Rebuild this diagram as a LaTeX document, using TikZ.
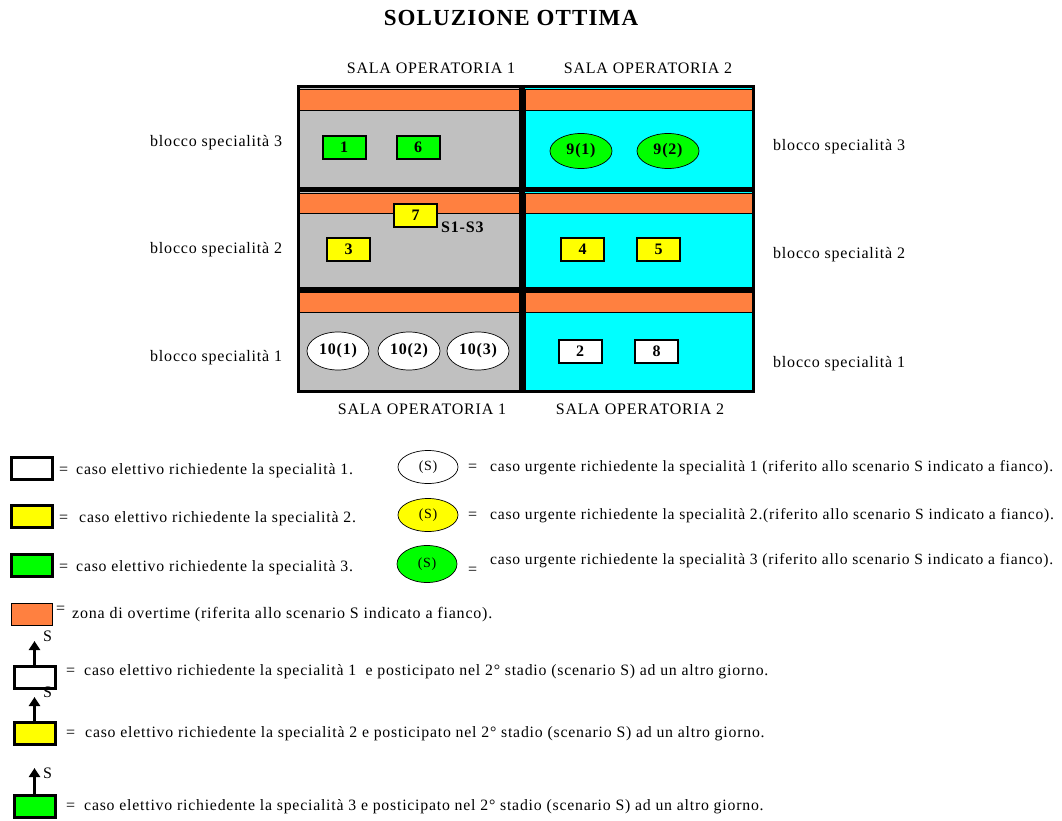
\documentclass[tikz,border=0pt]{standalone}
\usepackage{fontspec}
\setmainfont{Liberation Serif}[LetterSpace=5]
\usetikzlibrary{shapes.geometric,arrows.meta}

\definecolor{overtime}{RGB}{255,128,64}
\definecolor{grigiosala}{RGB}{192,192,192}
\definecolor{cianosala}{RGB}{0,255,255}
\definecolor{verde}{RGB}{0,255,0}
\definecolor{giallo}{RGB}{255,255,0}

\tikzset{
  elettivo/.style={draw, line width=2pt, minimum width=43pt, minimum height=23pt,
    inner sep=0pt, font=\fontsize{16}{16}\selectfont\bfseries},
  urgente/.style={draw, ellipse, line width=0.7pt, minimum width=62pt, minimum height=36pt,
    inner sep=0pt, font=\fontsize{16}{16}\selectfont\bfseries},
  testo/.style={anchor=west, inner sep=0pt, font=\fontsize{16}{16}\selectfont},
  riga/.style={anchor=base west, inner sep=0pt, font=\fontsize{#1}{16}\selectfont},
  riga/.default=16,
  legbox/.style={draw, line width=3pt, minimum width=41pt, minimum height=22pt, inner sep=0pt},
  legurg/.style={draw, ellipse, line width=0.7pt, minimum width=60pt, minimum height=33pt,
    inner sep=0pt, font=\fontsize{14}{14}\selectfont},
  rinvio/.style={line width=3pt, -{Triangle[length=9pt,width=11pt]}},
}

\begin{document}
\begin{tikzpicture}[x=1pt,y=-1pt]
    \useasboundingbox (0,0) rectangle (1062,821);

    % titolo e intestazioni delle sale
    \node[font=\fontsize{23}{23}\selectfont\bfseries] (titolo) at (511,18) {SOLUZIONE OTTIMA};
    \node[testo, anchor=center] (sala1su) at (431,68) {SALA OPERATORIA 1};
    \node[testo, anchor=center] (sala2su) at (648,68) {SALA OPERATORIA 2};

    % sfondo delle due sale
    \fill[grigiosala] (298,87) rectangle (522,390);
    \fill[cianosala] (522,87) rectangle (753,390);

    % fasce di overtime in cima a ogni blocco
    \foreach \ya/\yb in {89/110, 193/213, 292/312} {
        \filldraw[fill=overtime, line width=0.6pt] (299,\ya) rectangle (519,\yb);
        \filldraw[fill=overtime, line width=0.6pt] (525,\ya) rectangle (752,\yb);
    }
    \foreach \ya/\yb in {110/187, 213/287, 312/390} {
        \draw[line width=0.6pt] (299,\ya) rectangle (519,\yb);
        \draw[line width=0.6pt] (525,\ya) rectangle (752,\yb);
    }

    % bordo esterno e divisori
    \draw[line width=3pt] (298,87) rectangle (753,391);
    \draw[line width=6pt] (522,85) -- (522,393);
    \draw[line width=5pt] (298,190) -- (753,190);
    \draw[line width=5pt] (298,289.5) -- (753,289.5);

    % blocco specialita 3
    \node[elettivo, fill=verde] (c1) at (344,147.5) {1};
    \node[elettivo, fill=verde] (c6) at (418,147.5) {6};
    \node[urgente, fill=verde, minimum height=35pt] (c9a) at (581,151) {9(1)};
    \node[urgente, fill=verde, minimum height=35pt] (c9b) at (668,151) {9(2)};

    % blocco specialita 2
    \node[elettivo, fill=giallo] (c7) at (415.5,215.5) {7};
    \node[font=\fontsize{16}{16}\selectfont\bfseries, anchor=west, inner sep=0pt] (s13) at (441,227) {S1-S3};
    \node[elettivo, fill=giallo] (c3) at (348.5,249.5) {3};
    \node[elettivo, fill=giallo] (c4) at (582.5,249.5) {4};
    \node[elettivo, fill=giallo] (c5) at (658.5,249.5) {5};

    % blocco specialita 1
    \node[urgente, fill=white, minimum height=38pt] (c10a) at (338,351) {10(1)};
    \node[urgente, fill=white, minimum height=38pt] (c10b) at (409,351) {10(2)};
    \node[urgente, fill=white, minimum height=38pt] (c10c) at (478,351) {10(3)};
    \node[elettivo, fill=white] (c2) at (580,351) {2};
    \node[elettivo, fill=white] (c8) at (656.5,351) {8};

    % etichette dei blocchi
    \node[testo] (bs3sx) at (150,143) {blocco specialità 3};
    \node[testo] (bs2sx) at (150,250) {blocco specialità 2};
    \node[testo] (bs1sx) at (150,358) {blocco specialità 1};
    \node[testo] (bs3dx) at (773,147) {blocco specialità 3};
    \node[testo] (bs2dx) at (773,255) {blocco specialità 2};
    \node[testo] (bs1dx) at (773,364) {blocco specialità 1};

    \node[testo, anchor=center] (sala1giu) at (422,409) {SALA OPERATORIA 1};
    \node[testo, anchor=center] (sala2giu) at (640,409) {SALA OPERATORIA 2};

    % legenda: casi elettivi (righe allineate sulla linea di base)
    \node[legbox, fill=white] (le1) at (31.5,468) {};
    \node[riga] (ug1) at (59,474) {=};
    \node[riga=15.8] (lt1) at (76,474) {caso elettivo richiedente la specialità 1.};
    \node[legbox, fill=giallo] (le2) at (31.5,516.5) {};
    \node[riga] (ug2) at (59,522) {=};
    \node[riga=15.8] (lt2) at (79,522) {caso elettivo richiedente la specialità 2.};
    \node[legbox, fill=verde] (le3) at (31.5,565) {};
    \node[riga] (ug3) at (59,571) {=};
    \node[riga=15.8] (lt3) at (76,571) {caso elettivo richiedente la specialità 3.};

    % legenda: casi urgenti
    \node[legurg, fill=white] (lu1) at (428,467) {(S)};
    \node[riga] (uu1) at (468,471) {=};
    \node[riga=15.6] (lut1) at (490,471) {caso urgente richiedente la specialità 1 (riferito allo scenario S indicato a fianco).};
    \node[legurg, fill=giallo] (lu2) at (428,515) {(S)};
    \node[riga] (uu2) at (468,519) {=};
    \node[riga=15.6] (lut2) at (490,519) {caso urgente richiedente la specialità 2.(riferito allo scenario S indicato a fianco).};
    \node[legurg, fill=verde, minimum height=37pt] (lu3) at (427,564) {(S)};
    \node[riga] (uu3) at (468,574) {=};
    \node[riga=15.6] (lut3) at (490,564) {caso urgente richiedente la specialità 3 (riferito allo scenario S indicato a fianco).};

    % legenda: overtime
    \node[legbox, fill=overtime, line width=1.5pt] (lo) at (32,614.5) {};
    \node[riga] (uo) at (56,613) {=};
    \node[riga] (lot) at (72,618) {zona di overtime (riferita allo scenario S indicato a fianco).};

    % legenda: casi posticipati
    \node[legbox, fill=white] (lp1) at (34.5,677) {};
    \coordinate (fp1) at (34.5,641);
    \draw[rinvio] (lp1.north) -- (fp1);
    \node[testo] (sp1) at (43,636) {S};
    \node[riga] (up1) at (66,675) {=};
    \node[riga=15.8] (lpt1) at (84,675) {caso elettivo richiedente la specialità 1\ \ e posticipato nel 2° stadio (scenario S) ad un altro giorno.};

    \node[legbox, fill=giallo] (lp2) at (34.5,733) {};
    \coordinate (fp2) at (34.5,697);
    \draw[rinvio] (lp2.north) -- (fp2);
    \node[testo] (sp2) at (43,692) {S};
    \node[riga] (up2) at (66,737) {=};
    \node[riga=15.8] (lpt2) at (85,737) {caso elettivo richiedente la specialità 2 e posticipato nel 2° stadio (scenario S) ad un altro giorno.};

    \node[legbox, fill=verde] (lp3) at (34.5,806) {};
    \coordinate (fp3) at (34.5,768);
    \draw[rinvio] (lp3.north) -- (fp3);
    \node[testo] (sp3) at (43,773) {S};
    \node[riga] (up3) at (66,810) {=};
    \node[riga=15.8] (lpt3) at (84,810) {caso elettivo richiedente la specialità 3 e posticipato nel 2° stadio (scenario S) ad un altro giorno.};
\end{tikzpicture}
\end{document}
